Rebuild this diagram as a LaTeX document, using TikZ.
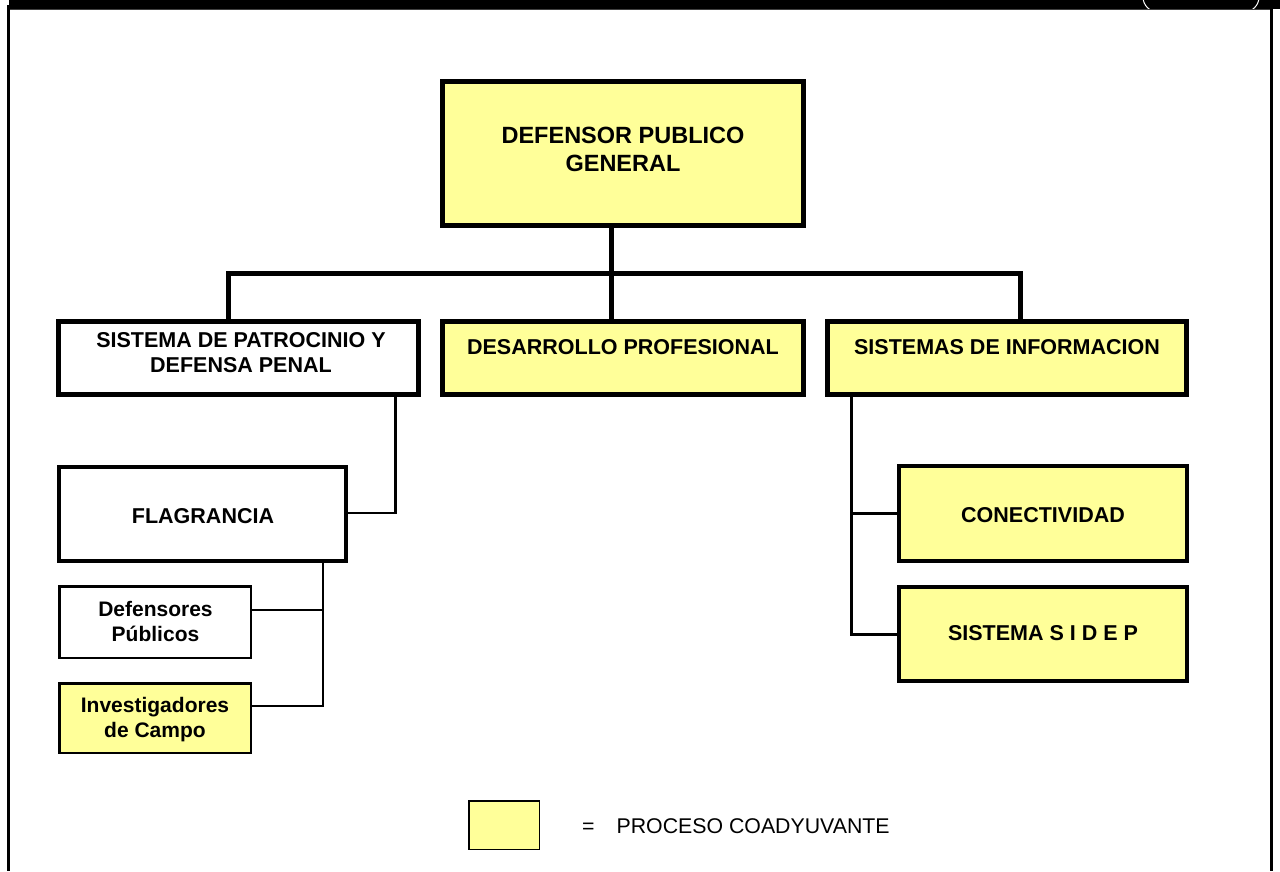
\documentclass[tikz,border=0pt]{standalone}
\usepackage{fontspec}
\setmainfont{Liberation Sans}
\definecolor{coad}{HTML}{FFFF99}
\begin{document}
\begin{tikzpicture}[x=1pt,y=-1pt,
  boxfive/.style={draw=black,line width=5pt,rectangle,inner sep=0pt},
  boxfour/.style={draw=black,line width=4pt,rectangle,inner sep=0pt},
  boxthin/.style={draw=black,line width=2.5pt,rectangle,inner sep=0pt},
  yel/.style={fill=coad},
  wht/.style={fill=white},
  lbl/.style={font=\bfseries\fontsize{21.5}{25}\selectfont,align=center,inner sep=0pt},
  toplbl/.style={font=\bfseries\fontsize{23.5}{28}\selectfont,align=center,inner sep=0pt},
  mainline/.style={draw=black,line width=5pt,line join=miter},
  subline/.style={draw=black,line width=2.5pt,line join=miter},
  subline3/.style={draw=black,line width=3pt,line join=miter}]
\useasboundingbox (0,0) rectangle (1280,871);
% frame and top band
\fill[black] (9,0) rectangle (1280,9);
\draw[white,line width=1pt,rounded corners=15pt] (1143,-30) rectangle (1259,12);
\fill[white] (10,10) rectangle (1270,871);
\draw[black!75,line width=1pt] (8,9.5) -- (1272,9.5);
\draw[black,line width=3pt] (8.5,5) -- (8.5,871);
\draw[black,line width=3pt] (1271.5,5) -- (1271.5,871);
% boxes
\node[boxfive,yel,minimum width=361pt,minimum height=144pt] (top) at (623,153.5) {};
\node[toplbl] (toptxt) at (623,149.5) {DEFENSOR PUBLICO\\GENERAL};
\node[boxfive,wht,minimum width=360pt,minimum height=73pt] (l2l) at (238.5,358) {};
\node[lbl] (l2ltxt) at (241,352.5) {SISTEMA DE PATROCINIO Y\\DEFENSA PENAL};
\node[boxfive,yel,minimum width=361pt,minimum height=73pt] (l2m) at (623,358) {};
\node[lbl] (l2mtxt) at (623,347) {DESARROLLO PROFESIONAL};
\node[boxfive,yel,minimum width=359pt,minimum height=73pt] (l2r) at (1007,358) {};
\node[lbl] (l2rtxt) at (1007,347) {SISTEMAS DE INFORMACION};
\node[boxfour,wht,minimum width=287pt,minimum height=94pt] (flag) at (202.5,514) {};
\node[lbl] (flagtxt) at (203,516.5) {FLAGRANCIA};
\node[boxfour,yel,minimum width=288pt,minimum height=95pt] (con) at (1043,513.5) {};
\node[lbl] (context) at (1043,515.5) {CONECTIVIDAD};
\node[boxfour,yel,minimum width=288pt,minimum height=94pt] (sidep) at (1043,634) {};
\node[lbl] (sideptxt) at (1043,633.5) {SISTEMA S I D E P};
\node[boxthin,wht,minimum width=191.5pt,minimum height=71.5pt] (def) at (155,622) {};
\node[lbl,font=\bfseries\fontsize{21}{25}\selectfont] (deftxt) at (155.5,621.5) {Defensores\\Públicos};
\node[boxthin,yel,minimum width=191.5pt,minimum height=69.5pt] (inv) at (155,718) {};
\node[lbl,font=\bfseries\fontsize{21}{25}\selectfont] (invtxt) at (155,719.5) {Investigadores\\de Campo};
% legend
\node[draw=black,line width=1.5pt,yel,rectangle,inner sep=0pt,minimum width=70.5pt,minimum height=48.5pt] (leg) at (504,825) {};
\node[anchor=base west,inner sep=0pt,font=\fontsize{21.3}{25}\selectfont] (legtxt) at (582,833) {=\hspace{22pt}PROCESO COADYUVANTE};
% connectors
\coordinate (bar) at (611,273);
\coordinate (jL) at (228.5,273);
\coordinate (jR) at (1020,273);
\draw[mainline] (top.south -| bar) -- (bar);
\draw[mainline] (jL |- l2l.north) -- (jL) -- (jR) -- (jR |- l2r.north);
\draw[mainline] (bar) -- (bar |- l2m.north);
\coordinate (kL) at (395.5,513);
\draw[subline] (l2l.south -| kL) -- (kL) -- (flag.east |- kL);
\coordinate (kD) at (323,610);
\coordinate (kI) at (323,706);
\draw[subline] (flag.south -| kI) -- (kI) -- (inv.east |- kI);
\draw[subline] (kD) -- (def.east |- kD);
\coordinate (kC) at (851.5,513);
\coordinate (kS) at (851.5,634);
\draw[subline3] (l2r.south -| kS) -- (kS) -- (sidep.west |- kS);
\draw[subline3] (kC) -- (con.west |- kC);
\end{tikzpicture}
\end{document}
